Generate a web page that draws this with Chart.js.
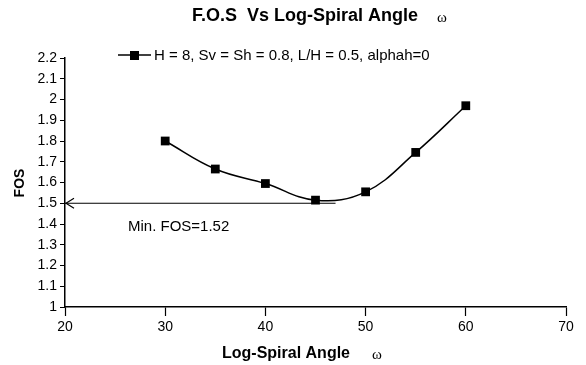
<!DOCTYPE html>
<html>
<head>
<meta charset="utf-8">
<script src="https://cdn.jsdelivr.net/npm/chart.js@4/dist/chart.umd.min.js"></script>
<style>
  html, body { margin: 0; padding: 0; background: #fff; }
  #wrap { width: 586px; height: 365px; position: relative; }
</style>
</head>
<body>
<div id="wrap"><canvas id="chart" width="586" height="365"></canvas></div>
<script>
// datos
const angles = [30, 35, 40, 45, 50, 55, 60];
const fosValues = [1.80, 1.665, 1.595, 1.515, 1.555, 1.745, 1.97];
const xTicks = [20, 30, 40, 50, 60, 70];
const yTicks = [1, 1.1, 1.2, 1.3, 1.4, 1.5, 1.6, 1.7, 1.8, 1.9, 2, 2.1, 2.2];
const minLineX = [20, 47];
const minLineY = 1.5;
const seriesLabel = "H = 8, Sv = Sh = 0.8, L/H = 0.5, alphah=0";

const sans = "'Liberation Sans', Arial, sans-serif";
const serif = "'Liberation Serif', 'Times New Roman', serif";

// textos y flecha dibujados a mano
const extras = {
    id: 'extras',
    afterDraw(chart) {
        const ctx = chart.ctx;
        const xs = chart.scales.x, ys = chart.scales.y;
        ctx.save();
        ctx.fillStyle = '#000';
        ctx.strokeStyle = '#000';
        ctx.textBaseline = 'middle';
        ctx.textAlign = 'left';

        // título
        ctx.font = 'bold 18px ' + sans;
        ctx.fillText('F.O.S  Vs Log-Spiral Angle', 192, 16);
        ctx.font = '15px ' + serif;
        ctx.fillText('ω', 437, 18);

        // leyenda
        ctx.lineWidth = 1.5;
        ctx.beginPath();
        ctx.moveTo(118, 55);
        ctx.lineTo(151, 55);
        ctx.stroke();
        ctx.fillRect(130, 51, 9, 9);
        ctx.font = '15px ' + sans;
        ctx.fillText(seriesLabel, 154, 56);

        // flecha del mínimo
        const ay = ys.getPixelForValue(minLineY);
        const ax = xs.getPixelForValue(minLineX[0]);
        ctx.lineWidth = 1.2;
        ctx.beginPath();
        ctx.moveTo(ax + 9, ay - 5);
        ctx.lineTo(ax + 1, ay);
        ctx.lineTo(ax + 9, ay + 5);
        ctx.stroke();

        ctx.font = '15px ' + sans;
        ctx.fillText('Min. FOS=1.52', 128, 227);

        // títulos de ejes
        ctx.font = 'bold 16px ' + sans;
        ctx.textAlign = 'center';
        ctx.fillText('Log-Spiral Angle', 286, 354);
        ctx.font = '15px ' + serif;
        ctx.fillText('ω', 377, 355);

        ctx.translate(20, 183);
        ctx.rotate(-Math.PI / 2);
        ctx.font = 'bold 14px ' + sans;
        ctx.fillText('FOS', 0, 0);
        ctx.restore();
    }
};

function initChart() {
    const ctx = document.getElementById('chart').getContext('2d');
    new Chart(ctx, {
        type: 'scatter',
        data: {
            datasets: [
                {
                    label: seriesLabel,
                    data: angles.map((a, i) => ({ x: a, y: fosValues[i] })),
                    showLine: true,
                    borderColor: '#000',
                    backgroundColor: '#000',
                    borderWidth: 1.5,
                    tension: 0.4,
                    pointStyle: 'rect',
                    pointRadius: 6.2,
                    pointBorderWidth: 0
                },
                {
                    label: 'min',
                    data: minLineX.map(x => ({ x: x, y: minLineY })),
                    showLine: true,
                    borderColor: '#000',
                    borderWidth: 1.2,
                    pointRadius: 0
                }
            ]
        },
        options: {
            responsive: false,
            animation: false,
            layout: { padding: { left: 0, right: 20, top: 58, bottom: 0 } },
            plugins: {
                legend: { display: false },
                title: { display: false },
                tooltip: { enabled: false }
            },
            scales: {
                x: {
                    type: 'linear',
                    min: 20, max: 70,
                    afterBuildTicks: s => { s.ticks = xTicks.map(v => ({ value: v })); },
                    afterFit: s => { s.height = 58; },
                    grid: { drawOnChartArea: false, color: '#000', tickLength: 9, tickWidth: 1.2 },
                    border: { color: '#000', width: 1.5 },
                    ticks: { color: '#000', font: { family: sans, size: 14 }, padding: 3, maxRotation: 0 }
                },
                y: {
                    type: 'linear',
                    min: 1, max: 2.2,
                    afterBuildTicks: s => { s.ticks = yTicks.map(v => ({ value: v })); },
                    afterFit: s => { s.width = 65; },
                    grid: { drawOnChartArea: false, color: '#000', tickLength: 5, tickWidth: 1 },
                    border: { color: '#000', width: 1.5 },
                    ticks: { color: '#000', font: { family: sans, size: 14 }, padding: 3,
                             callback: v => String(Math.round(v * 10) / 10) }
                }
            }
        },
        plugins: [extras]
    });
}

document.addEventListener('DOMContentLoaded', initChart);
</script>
</body>
</html>
